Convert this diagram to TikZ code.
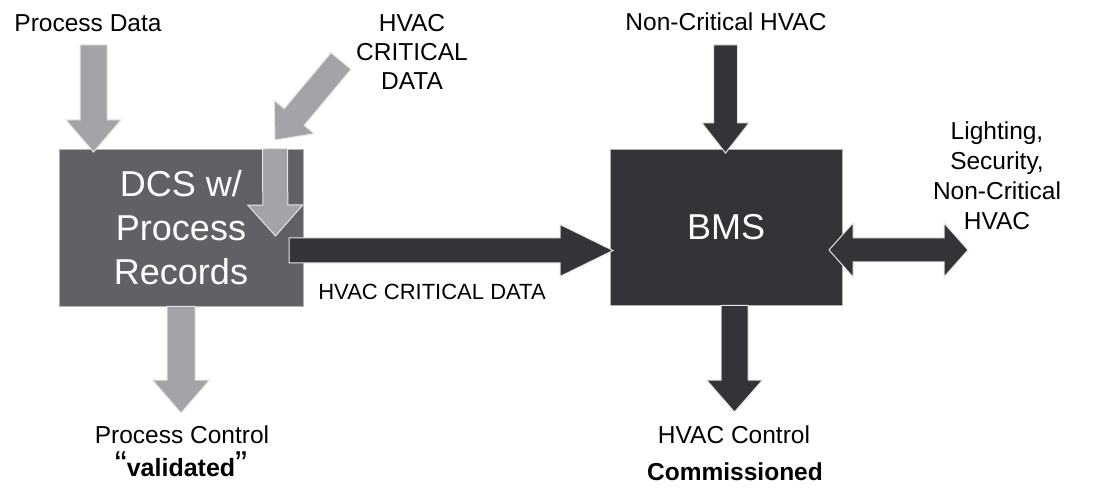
\documentclass[tikz,border=0pt]{standalone}
\usepackage{fontspec}
\setmainfont{Liberation Sans}
\usetikzlibrary{calc}

\definecolor{lightgrey}{HTML}{A3A4A8}
\definecolor{dcsgrey}{HTML}{606166}
\definecolor{darkgrey}{HTML}{333438}

% block arrow: [style]{from}{to}{half shaft}{half head}{head length}
\newcommand{\fatarrow}[6][]{%
    \coordinate (fa-h) at ($(#3)!#6!(#2)$);
    \path[#1] ($(#2)!#4!90:(#3)$) -- ($(fa-h)!#4!-90:(#2)$) -- ($(fa-h)!#5!-90:(#2)$)
        -- (#3) -- ($(fa-h)!#5!90:(#2)$) -- ($(fa-h)!#4!90:(#2)$)
        -- ($(#2)!#4!-90:(#3)$) -- cycle;
}
% block arrow with two heads
\newcommand{\dblarrow}[6][]{%
    \coordinate (da-a) at ($(#2)!#6!(#3)$);
    \coordinate (da-b) at ($(#3)!#6!(#2)$);
    \path[#1] (#2) -- ($(da-a)!#5!90:(#3)$) -- ($(da-a)!#4!90:(#3)$)
        -- ($(da-b)!#4!-90:(#2)$) -- ($(da-b)!#5!-90:(#2)$) -- (#3)
        -- ($(da-b)!#5!90:(#2)$) -- ($(da-b)!#4!90:(#2)$)
        -- ($(da-a)!#4!-90:(#3)$) -- ($(da-a)!#5!-90:(#3)$) -- cycle;
}

\begin{document}
\begin{tikzpicture}[x=1pt, y=-1pt,
    box/.style={draw=black!30, line width=0.6pt, inner sep=0pt, text=white,
        font=\fontsize{36}{44}\selectfont, align=center},
    lbl/.style={inner sep=0pt, align=center, font=\fontsize{24.5}{30}\selectfont},
    lightarr/.style={fill=lightgrey, draw=black!10, line width=1pt},
    darkarr/.style={fill=darkgrey, draw=black!10, line width=1pt}
]
    \useasboundingbox (0,0) rectangle (1098,489);

    \node[box, fill=dcsgrey, minimum width=244pt, minimum height=157pt] (dcs) at (181,227.5) {DCS w/\\Process\\Records};
    \node[box, fill=darkgrey, minimum width=232pt, minimum height=156pt] (bms) at (726,227) {BMS};

    \node[lbl] (pdata) at (88,23) {Process Data};
    \node[lbl, font=\fontsize{24.5}{29}\selectfont] (hcrit) at (412,52) {HVAC\\CRITICAL\\DATA};
    \node[lbl] (ncrit) at (726,22) {Non-Critical HVAC};
    \node[lbl] (light) at (997,176) {Lighting,\\Security,\\Non-Critical\\HVAC};
    \node[lbl, font=\fontsize{22}{26}\selectfont] (hcd) at (432,292) {HVAC CRITICAL DATA};
    \node[lbl] (pctrl) at (182,435) {Process Control};
    \node[lbl, anchor=base, font=\bfseries\fontsize{25}{30}\selectfont] (pval) at (181,476)
        {{\mdseries\fontsize{36}{36}\selectfont “}validated{\mdseries\fontsize{36}{36}\selectfont ”}};
    \node[lbl] (hctrl) at (734,435) {HVAC Control};
    \node[lbl, anchor=base, font=\bfseries\fontsize{24.5}{30}\selectfont] (hcom) at (735,480) {Commissioned};

    \coordinate (pdata-s) at (93.5,45);
    \coordinate (pdata-t) at (93.5,152);
    \coordinate (hcrit-s) at (341,61);
    \coordinate (hcrit-t) at (275,140);
    \coordinate (hcrit-u) at (275.5,236);
    \coordinate (hcd-s) at (289,250.5);
    \coordinate (hcd-t) at (613,250.5);
    \coordinate (ncrit-s) at (725.5,45);
    \coordinate (ncrit-t) at (725.5,153);
    \coordinate (light-l) at (829,250);
    \coordinate (light-r) at (968,250);
    \coordinate (hctrl-t) at (734.5,412);
    \coordinate (pctrl-t) at (181,413);

    \fatarrow[lightarr]{pdata-s}{pdata-t}{13.5pt}{27.5pt}{32pt}
    \fatarrow[lightarr]{hcrit-s}{hcrit-t}{13pt}{26pt}{30pt}
    \fatarrow[lightarr]{hcrit-t |- dcs.north}{hcrit-u}{12.5pt}{27.5pt}{31pt}
    \fatarrow[darkarr]{hcd-s}{hcd-t}{12.5pt}{26pt}{53pt}
    \fatarrow[darkarr]{ncrit-s}{ncrit-t}{12pt}{23.5pt}{30pt}
    \dblarrow[darkarr]{light-l}{light-r}{12pt}{27pt}{24pt}
    \fatarrow[darkarr]{hctrl-t |- bms.south}{hctrl-t}{13.5pt}{28pt}{32pt}
    \fatarrow[lightarr]{pctrl-t |- dcs.south}{pctrl-t}{14pt}{28.5pt}{33pt}
\end{tikzpicture}
\end{document}
